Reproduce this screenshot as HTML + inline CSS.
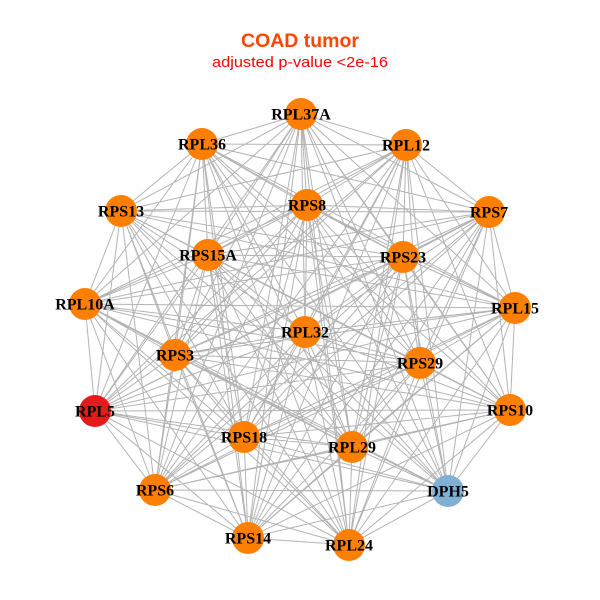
<!DOCTYPE html>
<html><head><meta charset="utf-8"><style>html,body{margin:0;padding:0;background:#fff;}svg{display:block;}</style></head>
<body>
<svg width="600" height="600" viewBox="0 0 600 600" xmlns="http://www.w3.org/2000/svg">
<rect width="600" height="600" fill="#fff"/>
<text x="300" y="47" text-anchor="middle" font-family="Liberation Sans, sans-serif" font-weight="bold" font-size="19" fill="#FF4500" textLength="118" lengthAdjust="spacingAndGlyphs">COAD tumor</text>
<text x="300" y="67" text-anchor="middle" font-family="Liberation Sans, sans-serif" font-size="15" fill="#F00" textLength="176" lengthAdjust="spacingAndGlyphs">adjusted p-value &lt;2e-16</text>
<path fill="none" stroke="#B3B3B3" stroke-width="1" d="
M301 114L202 144M301 114L406 145M301 114L121 211M301 114L307 205M301 114L489 212M301 114L208 255M301 114L403 257M301 114L85 304M301 114L515 308M301 114L305 332M301 114L175 355M301 114L420 363M301 114L95 411M301 114L510 410M301 114L244 437M301 114L352 447M301 114L155 490M301 114L448 491M301 114L248 538M301 114L349 545
M202 144L406 145M202 144L121 211M202 144L307 205M202 144L489 212M202 144L208 255M202 144L403 257M202 144L85 304M202 144L515 308M202 144L305 332M202 144L175 355M202 144L420 363M202 144L95 411M202 144L510 410M202 144L244 437M202 144L352 447M202 144L155 490M202 144L448 491M202 144L248 538M202 144L349 545
M406 145L121 211M406 145L307 205M406 145L489 212M406 145L208 255M406 145L403 257M406 145L85 304M406 145L515 308M406 145L305 332M406 145L175 355M406 145L420 363M406 145L95 411M406 145L510 410M406 145L244 437M406 145L352 447M406 145L155 490M406 145L448 491M406 145L248 538M406 145L349 545
M121 211L307 205M121 211L489 212M121 211L208 255M121 211L403 257M121 211L85 304M121 211L515 308M121 211L305 332M121 211L175 355M121 211L420 363M121 211L95 411M121 211L510 410M121 211L244 437M121 211L352 447M121 211L155 490M121 211L448 491M121 211L248 538M121 211L349 545
M307 205L489 212M307 205L208 255M307 205L403 257M307 205L85 304M307 205L515 308M307 205L305 332M307 205L175 355M307 205L420 363M307 205L95 411M307 205L510 410M307 205L244 437M307 205L352 447M307 205L155 490M307 205L448 491M307 205L248 538M307 205L349 545
M489 212L208 255M489 212L403 257M489 212L85 304M489 212L515 308M489 212L305 332M489 212L175 355M489 212L420 363M489 212L95 411M489 212L510 410M489 212L244 437M489 212L352 447M489 212L155 490M489 212L448 491M489 212L248 538M489 212L349 545
M208 255L403 257M208 255L85 304M208 255L515 308M208 255L305 332M208 255L175 355M208 255L420 363M208 255L95 411M208 255L510 410M208 255L244 437M208 255L352 447M208 255L155 490M208 255L448 491M208 255L248 538M208 255L349 545
M403 257L85 304M403 257L515 308M403 257L305 332M403 257L175 355M403 257L420 363M403 257L95 411M403 257L510 410M403 257L244 437M403 257L352 447M403 257L155 490M403 257L448 491M403 257L248 538M403 257L349 545
M85 304L515 308M85 304L305 332M85 304L175 355M85 304L420 363M85 304L95 411M85 304L510 410M85 304L244 437M85 304L352 447M85 304L155 490M85 304L448 491M85 304L248 538M85 304L349 545
M515 308L305 332M515 308L175 355M515 308L420 363M515 308L95 411M515 308L510 410M515 308L244 437M515 308L352 447M515 308L155 490M515 308L448 491M515 308L248 538M515 308L349 545
M305 332L175 355M305 332L420 363M305 332L95 411M305 332L510 410M305 332L244 437M305 332L352 447M305 332L155 490M305 332L448 491M305 332L248 538M305 332L349 545
M175 355L420 363M175 355L95 411M175 355L510 410M175 355L244 437M175 355L352 447M175 355L155 490M175 355L448 491M175 355L248 538M175 355L349 545
M420 363L95 411M420 363L510 410M420 363L244 437M420 363L352 447M420 363L155 490M420 363L448 491M420 363L248 538M420 363L349 545
M95 411L510 410M95 411L244 437M95 411L352 447M95 411L155 490M95 411L448 491M95 411L248 538M95 411L349 545
M510 410L244 437M510 410L352 447M510 410L155 490M510 410L448 491M510 410L248 538M510 410L349 545
M244 437L352 447M244 437L155 490M244 437L448 491M244 437L248 538M244 437L349 545
M352 447L155 490M352 447L448 491M352 447L248 538M352 447L349 545
M155 490L448 491M155 490L248 538M155 490L349 545
M448 491L248 538M448 491L349 545
M248 538L349 545"/>
<g fill="#FF7F00">
<circle cx="301" cy="114" r="16"/>
<circle cx="202" cy="144" r="16"/>
<circle cx="406" cy="145" r="16"/>
<circle cx="121" cy="211" r="16"/>
<circle cx="307" cy="205" r="16"/>
<circle cx="489" cy="212" r="16"/>
<circle cx="208" cy="255" r="16"/>
<circle cx="403" cy="257" r="16"/>
<circle cx="85" cy="304" r="16"/>
<circle cx="515" cy="308" r="16"/>
<circle cx="305" cy="332" r="16"/>
<circle cx="175" cy="355" r="16"/>
<circle cx="420" cy="363" r="16"/>
<circle cx="510" cy="410" r="16"/>
<circle cx="244" cy="437" r="16"/>
<circle cx="352" cy="447" r="16"/>
<circle cx="155" cy="490" r="16"/>
<circle cx="248" cy="538" r="16"/>
<circle cx="349" cy="545" r="16"/>
</g>
<circle cx="95" cy="411" r="16" fill="#E41A1C"/>
<circle cx="448" cy="491" r="16" fill="#80B1D3"/>
<g font-family="Liberation Serif, serif" font-weight="bold" font-size="16" fill="#000" text-anchor="middle">
<text x="301" y="119.5">RPL37A</text>
<text x="202" y="149.5">RPL36</text>
<text x="406" y="150.5">RPL12</text>
<text x="121" y="216.5">RPS13</text>
<text x="307" y="210.5">RPS8</text>
<text x="489" y="217.5">RPS7</text>
<text x="208" y="260.5">RPS15A</text>
<text x="403" y="262.5">RPS23</text>
<text x="85" y="309.5">RPL10A</text>
<text x="515" y="313.5">RPL15</text>
<text x="305" y="337.5">RPL32</text>
<text x="175" y="360.5">RPS3</text>
<text x="420" y="368.5">RPS29</text>
<text x="95" y="416.5">RPL5</text>
<text x="510" y="415.5">RPS10</text>
<text x="244" y="442.5">RPS18</text>
<text x="352" y="452.5">RPL29</text>
<text x="155" y="495.5">RPS6</text>
<text x="448" y="496.5">DPH5</text>
<text x="248" y="543.5">RPS14</text>
<text x="349" y="550.5">RPL24</text>
</g>
</svg>
</body></html>
